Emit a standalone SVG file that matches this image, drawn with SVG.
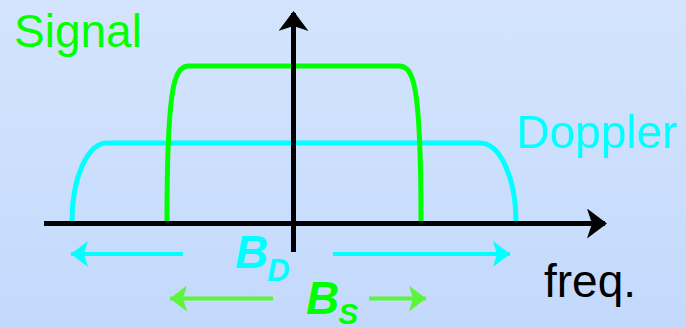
<svg xmlns="http://www.w3.org/2000/svg" width="686" height="328" viewBox="0 0 686 328">
<defs>
<linearGradient id="bg" x1="0" y1="0" x2="0" y2="1">
<stop offset="0" stop-color="#d4e4fd"/>
<stop offset="1" stop-color="#c3d9fc"/>
</linearGradient>
<marker id="ah" viewBox="0 0 20 30" refX="18" refY="15" markerWidth="20" markerHeight="30" markerUnits="userSpaceOnUse" orient="auto">
<path d="M0,0 L20,15 L0,30 L5,15 Z" fill="#000"/>
</marker>
<marker id="ac" viewBox="0 0 18 26" refX="17" refY="13" markerWidth="18" markerHeight="26" markerUnits="userSpaceOnUse" orient="auto">
<path d="M0,0 L17,13 L0,26 L4,13 Z" fill="#00ffff"/>
</marker>
<marker id="ag" viewBox="0 0 18 26" refX="17" refY="13" markerWidth="18" markerHeight="26" markerUnits="userSpaceOnUse" orient="auto">
<path d="M0,0 L17,13 L0,26 L4,13 Z" fill="#5cf53c"/>
</marker>
</defs>
<style>
.lbl{font-family:"Liberation Sans",Arial,sans-serif;font-size:46px}
.b{font-family:"Liberation Sans",Arial,sans-serif;font-weight:bold;font-style:italic}
.curve{fill:none;stroke-width:5;stroke-linejoin:round}
</style>
<rect width="686" height="328" fill="url(#bg)"/>
<g id="doppler-curve">
<path class="curve" stroke="#00ffff" d="M72,221 A35,78 0 0 1 107,143 L480,143 A36,78 0 0 1 516,221"/>
</g>
<g id="signal-curve">
<path class="curve" stroke="#00ff00" d="M167,221 C167,150 169,95 176,78 Q180,66 189,66 L399,66 Q408,66 412,78 C419,95 421,150 421,221"/>
</g>
<g id="axes">
<line x1="44" y1="223.5" x2="605" y2="223.5" stroke="#000" stroke-width="5" marker-end="url(#ah)"/>
<line x1="293.5" y1="252" x2="293.5" y2="13" stroke="#000" stroke-width="5" marker-end="url(#ah)"/>
</g>
<g id="connectors">
<line x1="183" y1="254" x2="71" y2="254" stroke="#00ffff" stroke-width="4" marker-end="url(#ac)"/>
<line x1="333" y1="254" x2="510" y2="254" stroke="#00ffff" stroke-width="4" marker-end="url(#ac)"/>
<line x1="273" y1="298.5" x2="170" y2="298.5" stroke="#5cf53c" stroke-width="4" marker-end="url(#ag)"/>
<line x1="369" y1="298.5" x2="426" y2="298.5" stroke="#5cf53c" stroke-width="4" marker-end="url(#ag)"/>
</g>
<g id="labels">
<text class="lbl" x="14" y="47" fill="#00ff00">Signal</text>
<text class="lbl" x="516" y="148" fill="#00ffff">Doppler</text>
<text class="lbl" x="544" y="297" fill="#000">freq.</text>
<text class="b" x="235" y="268" fill="#00ffff" font-size="46">B<tspan font-size="31" dx="-1" dy="13">D</tspan></text>
<text class="b" x="306" y="314" fill="#00ff00" font-size="46">B<tspan font-size="30" dx="-1" dy="10">S</tspan></text>
</g>
</svg>
